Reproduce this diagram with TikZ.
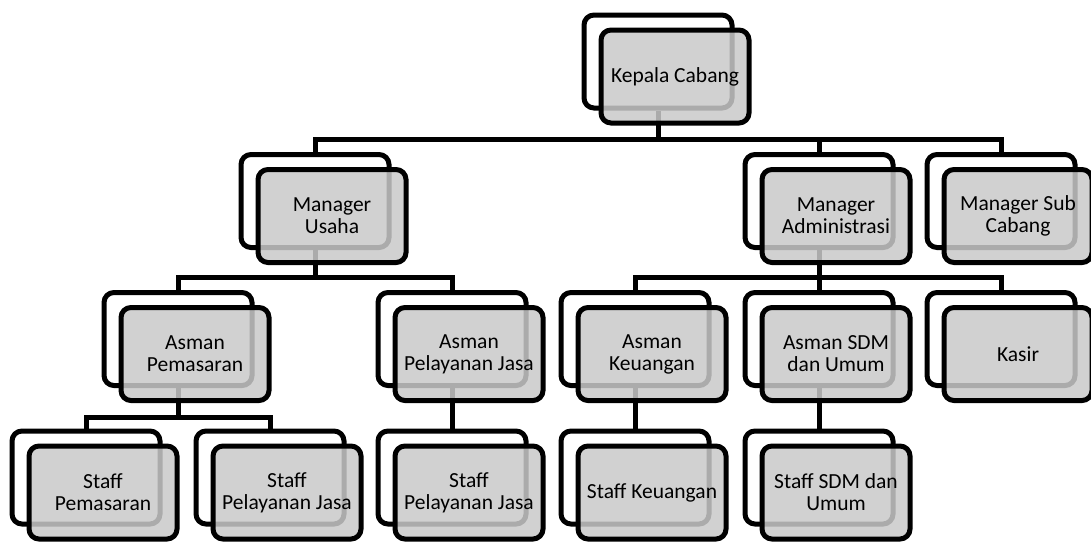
\documentclass[tikz,border=0pt]{standalone}
\usepackage{fontspec}
\setmainfont{Carlito}
\usepackage{tikz}
\usetikzlibrary{positioning,calc}

\begin{document}
\begin{tikzpicture}[x=1pt,y=-1pt,
	backbox/.style={draw,line width=5pt,rounded corners=10pt,minimum width=148pt,minimum height=93pt},
	frontbox/.style={backbox,fill=black!21,fill opacity=0.85,text opacity=1,align=center,
		font=\fontsize{21.5pt}{22pt}\selectfont},
	link/.style={line width=5pt}]
	\useasboundingbox (0,0) rectangle (1091,541);
	\clip (0,0) rectangle (1091,541);

	% back boxes
	\foreach \n/\x/\y in {kc/658/61.5, mu/315/201, ma/819/201, msc/1001/201,
		ap/178/339, apj/452/339, ak/635/339, asdm/819/339, kasir/1001/339,
		sp/86/477.5, spj/270/477.5, spjb/452/477.5, sk/635/477.5, ssdm/819/477.5}
		\node[backbox] (\n-b) at (\x,\y) {};

	% connectors
	\coordinate (bus1) at (0,139);
	\coordinate (bus2) at (0,277);
	\coordinate (bus3) at (0,417);
	\draw[link] (kc-b.south) -- (kc-b.south |- bus1) -| (mu-b.north);
	\draw[link] (kc-b.south |- bus1) -| (msc-b.north);
	\draw[link] (kc-b.south |- bus1) -| (ma-b.north);
	\draw[link] (mu-b.south) -- (mu-b.south |- bus2) -| (ap-b.north);
	\draw[link] (mu-b.south |- bus2) -| (apj-b.north);
	\draw[link] (ma-b.south) -- (asdm-b.north);
	\draw[link] (ma-b.south |- bus2) -| (ak-b.north);
	\draw[link] (ma-b.south |- bus2) -| (kasir-b.north);
	\draw[link] (ap-b.south) -- (ap-b.south |- bus3) -| (sp-b.north);
	\draw[link] (ap-b.south |- bus3) -| (spj-b.north);
	\draw[link] (apj-b.south) -- (spjb-b.north);
	\draw[link] (ak-b.south) -- (sk-b.north);
	\draw[link] (asdm-b.south) -- (ssdm-b.north);

	% front boxes
	\foreach \n/\t in {kc/{Kepala Cabang}, mu/{Manager\\Usaha}, ma/{Manager\\Administrasi},
		msc/{Manager Sub\\Cabang}, ap/{Asman\\Pemasaran}, apj/{Asman\\Pelayanan Jasa},
		ak/{Asman\\Keuangan}, asdm/{Asman SDM\\dan Umum}, kasir/{Kasir},
		sp/{Staff\\Pemasaran}, spj/{Staff\\Pelayanan Jasa}, spjb/{Staff\\Pelayanan Jasa},
		sk/{Staff Keuangan}, ssdm/{Staff SDM dan\\Umum}}
		\node[frontbox] (\n) at ([shift={(17,15)}]\n-b.center) {\t};
\end{tikzpicture}
\end{document}
